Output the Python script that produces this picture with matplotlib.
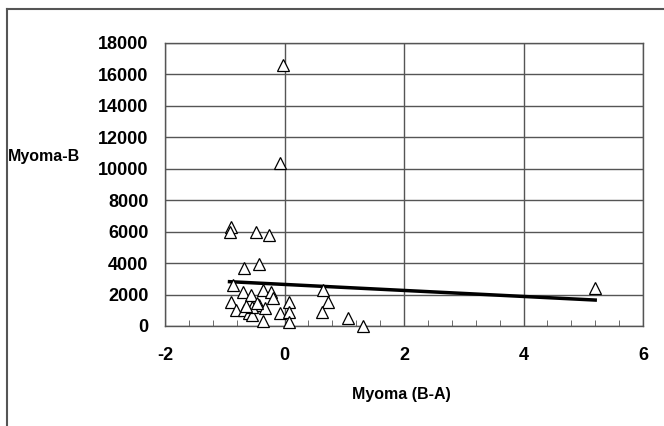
import matplotlib
matplotlib.use('Agg')
import matplotlib.pyplot as plt
from matplotlib.lines import Line2D
from matplotlib.ticker import MultipleLocator

plt.rcParams['font.family'] = ['Liberation Sans', 'DejaVu Sans']
plt.rcParams['axes.unicode_minus'] = False

# data
x_vals = [-0.03, -0.08, -0.89, -0.92, -0.47, -0.26, -0.67, -0.42,
          -0.87, -0.70, -0.56, -0.36, -0.22, -0.20, -0.89, -0.81,
          -0.67, -0.59, -0.54, -0.42, -0.33, -0.36, -0.08, 0.08,
          0.08, 0.08, 0.64, 0.72, 0.63, 1.06, 1.31, 5.19,
          -0.55, -0.46, -0.64]
y_vals = [16600, 10370, 6315, 6000, 6000, 5790, 3670, 3920,
          2600, 2180, 1970, 2290, 2180, 1760, 1550, 1020,
          1020, 810, 700, 1340, 1120, 300, 810, 1550,
          910, 250, 2290, 1550, 910, 490, 20, 2400,
          1230, 1440, 1300]
trend_x = [-0.92, 5.2]
trend_y = [2820, 1650]

x_ticks = [-2, 0, 2, 4, 6]
y_ticks = list(range(0, 18001, 2000))

fig = plt.figure(figsize=(6.64, 4.26), dpi=100)
ax = fig.add_axes([165 / 664, 100 / 426, 478 / 664, 283 / 426])

ax.set_xlim(-2, 6)
ax.set_ylim(0, 18000)
ax.set_xticks(x_ticks)
ax.set_yticks(y_ticks)
ax.xaxis.set_minor_locator(MultipleLocator(0.4))

ax.grid(True, which='major', color='#555555', linewidth=1.0)
ax.set_axisbelow(True)
for s in ax.spines.values():
    s.set_color('#555555')
    s.set_linewidth(1.0)

ax.tick_params(axis='x', which='major', length=0, pad=15, labelsize=13)
ax.tick_params(axis='x', which='minor', direction='in', length=4, color='#555555')
ax.tick_params(axis='y', which='major', length=0, pad=12, labelsize=13)
for lab in ax.get_xticklabels() + ax.get_yticklabels():
    lab.set_fontweight('bold')

ax.plot(trend_x, trend_y, color='black', linewidth=2.5, zorder=3)
ax.plot(x_vals, y_vals, linestyle='none', marker='^', markersize=8,
        markerfacecolor='white', markeredgecolor='black',
        markeredgewidth=0.9, zorder=4, clip_on=False)

fig.text(8 / 664, 1 - 157 / 426, 'Myoma-B', fontsize=11.5, fontweight='bold',
         ha='left', va='center')
fig.text(401 / 664, 1 - 395 / 426, 'Myoma (B-A)', fontsize=11.5,
         fontweight='bold', ha='center', va='center')

# outer frame (only left and top edges visible)
fig.add_artist(Line2D([7 / 664, 7 / 664], [0, 1 - 9 / 426],
                      color='#555555', linewidth=1.5))
fig.add_artist(Line2D([7 / 664, 1], [1 - 9 / 426, 1 - 9 / 426],
                      color='#555555', linewidth=1.5))

fig.savefig('out.png', dpi=100)
